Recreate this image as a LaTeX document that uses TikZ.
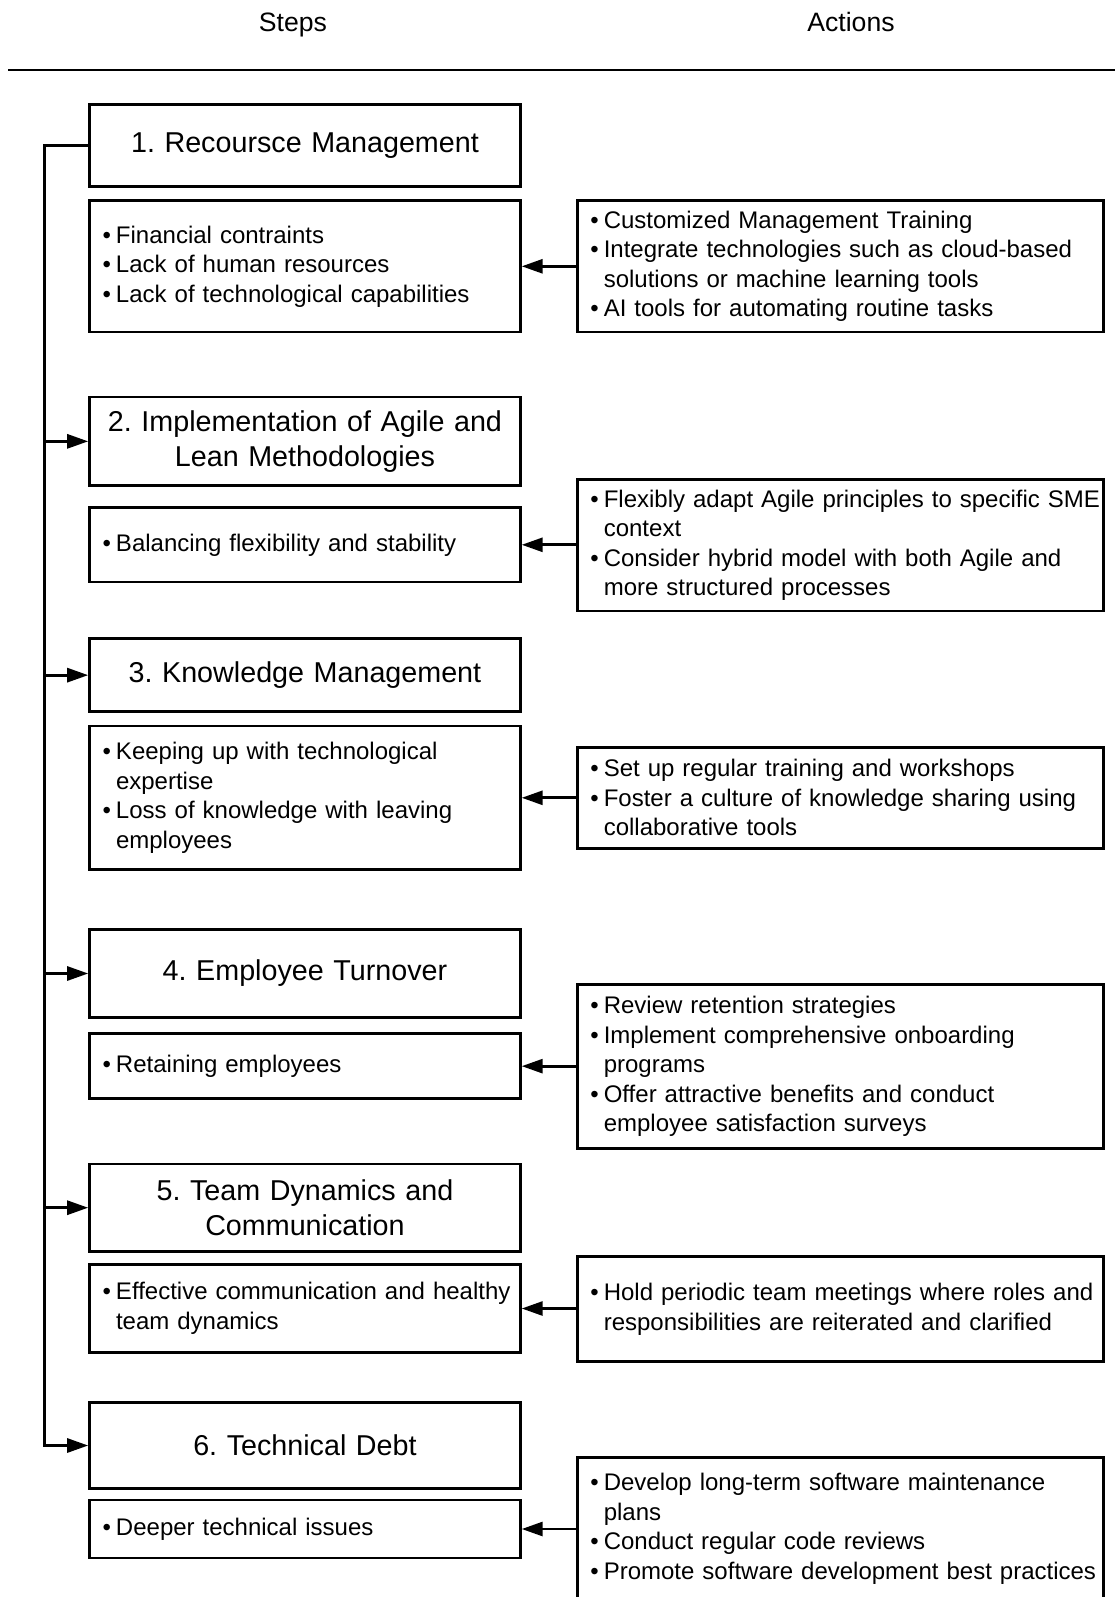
\documentclass[tikz,border=0pt]{standalone}
\usepackage{fontspec}
\setmainfont{Liberation Sans}
\usetikzlibrary{arrows.meta}
\frenchspacing
\newcommand{\bl}[1]{\mbox{\textbullet\kern5pt #1}}
\newcommand{\cl}[1]{\mbox{\phantom{\textbullet\kern5pt}#1}}
\newcommand{\bodyfont}{\fontsize{24pt}{29.5pt}\selectfont\frenchspacing}
\newcommand{\titlefont}{\fontsize{28.7pt}{34.6pt}\selectfont\frenchspacing}
\newcommand{\headfont}{\fontsize{26.6pt}{32pt}\selectfont}
\begin{document}
\begin{tikzpicture}[x=1pt,y=-1pt,
  box/.style={draw, line width=2.8pt, rectangle, inner xsep=13pt, inner ysep=0pt},
  titlebox/.style={box, minimum width=430.7pt, text width=404.7pt, align=center, font=\titlefont},
  probbox/.style={box, minimum width=430.7pt, text width=404.7pt, align=left, font=\bodyfont},
  actbox/.style={box, inner xsep=13pt, minimum width=526.4pt, text width=500.4pt, align=left, font=\bodyfont},
  conn/.style={line width=2.8pt},
  arr/.style={conn, -{Triangle[length=21pt,width=14pt]}},
  head/.style={font=\headfont, inner sep=0pt, anchor=base}
]
\clip (0,0) rectangle (1115,1597);
% headers
\node[head] (hs) at (293,31.5) {Steps};
\node[head] (ha) at (851,31.5) {Actions};
\coordinate (hl) at (8,70);
\coordinate (hr) at (1115,70);
\draw[conn] (hl) -- (hr);

% step titles
\node[titlebox, minimum height=81.5pt] (t1) at (304.95,145.65) {1. Recoursce Management};
\node[titlebox, minimum height=88.7pt] (t2) at (304.95,441.35) {2. Implementation of Agile and\\ Lean Methodologies};
\node[titlebox, minimum height=73.3pt] (t3) at (304.95,675.15) {3. Knowledge Management};
\node[titlebox, minimum height=87.6pt] (t4) at (304.95,973.5) {4. Employee Turnover};
\node[titlebox, minimum height=87.6pt] (t5) at (304.95,1207.7) {5. Team Dynamics and\\ Communication};
\node[titlebox, minimum height=86.6pt] (t6) at (304.95,1445.5) {6. Technical Debt};

% problems
\node[probbox, minimum height=131.4pt] (b1) at (304.95,266.3) {\bl{Financial contraints}\\ \bl{Lack of human resources}\\ \bl{Lack of technological capabilities}};
\node[probbox, minimum height=74.5pt] (b2) at (304.95,544.8) {\bl{Balancing flexibility and stability}};
\node[probbox, minimum height=143.6pt] (b3) at (304.95,797.8) {\bl{Keeping up with technological}\\ \cl{expertise}\\ \bl{Loss of knowledge with leaving}\\ \cl{employees}};
\node[probbox, minimum height=65.1pt] (b4) at (304.95,1066.15) {\bl{Retaining employees}};
\node[probbox, minimum height=87.6pt] (b5) at (304.95,1308.5) {\bl{Effective communication and healthy}\\ \cl{team dynamics}};
\node[probbox, minimum height=58pt] (b6) at (304.95,1529) {\bl{Deeper technical issues}};

% actions
\node[actbox, minimum height=131.4pt] (a1) at (840.6,266.3) {\bl{Customized Management Training}\\ \bl{Integrate technologies such as cloud-based}\\ \cl{solutions or machine learning tools}\\ \bl{AI tools for automating routine tasks}};
\node[actbox, minimum height=131.4pt] (a2) at (840.6,545.3) {\bl{Flexibly adapt Agile principles to specific SME}\\ \cl{context}\\ \bl{Consider hybrid model with both Agile and}\\ \cl{more structured processes}};
\node[actbox, minimum height=100.8pt] (a3) at (840.6,797.8) {\bl{Set up regular training and workshops}\\ \bl{Foster a culture of knowledge sharing using}\\ \cl{collaborative tools}};
\node[actbox, minimum height=163.9pt] (a4) at (840.6,1066.65) {\bl{Review retention strategies}\\ \bl{Implement comprehensive onboarding}\\ \cl{programs}\\ \bl{Offer attractive benefits and conduct}\\ \cl{employee satisfaction surveys}};
\node[actbox, minimum height=104.9pt] (a5) at (840.6,1309.05) {\bl{Hold periodic team meetings where roles and}\\ \cl{responsibilities are reiterated and clarified}};
\node[actbox, minimum height=142.8pt] (a6) at (840.6,1528.6) {\bl{Develop long-term software maintenance}\\ \cl{plans}\\ \bl{Conduct regular code reviews}\\ \bl{Promote software development best practices}};

% trunk
\coordinate (tx) at (44.8,0);
\draw[arr] (t1.west) -- (t1.west -| tx) |- (t6.west);
\foreach \n in {t2,t3,t4,t5} \draw[arr] (\n.west -| tx) -- (\n.west);

% action arrows
\foreach \i in {1,...,6} \draw[arr] (b\i.east -| a\i.west) -- (b\i.east);
\end{tikzpicture}
\end{document}
